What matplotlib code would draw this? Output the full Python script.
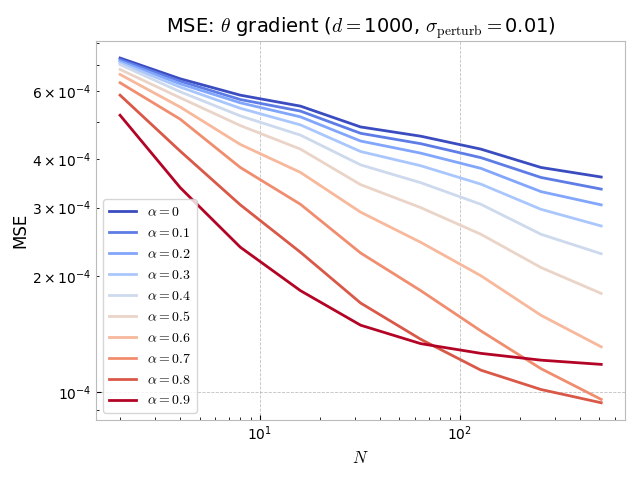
import numpy as np
import matplotlib
matplotlib.use('Agg')
import matplotlib.pyplot as plt

plt.rcParams['mathtext.fontset'] = 'cm'

# sample sizes and alpha mixing values
N = [2, 4, 8, 16, 32, 64, 128, 256, 512]
alphas = [0, 0.1, 0.2, 0.3, 0.4, 0.5, 0.6, 0.7, 0.8, 0.9]

# MSE values (units of 1e-4)
mse_a0 = [7.31, 6.46, 5.86, 5.49, 4.85, 4.59, 4.25, 3.81, 3.60]
mse_a1 = [7.24, 6.37, 5.71, 5.33, 4.67, 4.39, 4.04, 3.59, 3.35]
mse_a2 = [7.17, 6.27, 5.60, 5.15, 4.46, 4.15, 3.79, 3.30, 3.05]
mse_a3 = [7.10, 6.15, 5.42, 4.91, 4.19, 3.85, 3.45, 2.97, 2.69]
mse_a4 = [7.03, 5.98, 5.18, 4.62, 3.87, 3.48, 3.06, 2.56, 2.28]
mse_a5 = [6.83, 5.77, 4.89, 4.25, 3.44, 3.00, 2.56, 2.10, 1.80]
mse_a6 = [6.63, 5.46, 4.37, 3.70, 2.92, 2.44, 2.00, 1.58, 1.31]
mse_a7 = [6.31, 5.08, 3.81, 3.06, 2.29, 1.83, 1.44, 1.15, 0.958]
mse_a8 = [5.86, 4.20, 3.05, 2.30, 1.70, 1.37, 1.14, 1.016, 0.939]
mse_a9 = [5.20, 3.38, 2.37, 1.83, 1.49, 1.335, 1.26, 1.21, 1.18]
mse = [mse_a0, mse_a1, mse_a2, mse_a3, mse_a4, mse_a5, mse_a6, mse_a7, mse_a8, mse_a9]

colors = plt.cm.coolwarm(np.linspace(0, 1, len(alphas)))

fig, ax = plt.subplots(figsize=(6.4, 4.8), dpi=100)
for a, vals, c in zip(alphas, mse, colors):
    ax.plot(N, np.array(vals) * 1e-4, color=c, lw=2, label=rf'$\alpha={a}$')

ax.set_xscale('log')
ax.set_yscale('log')
ax.set_xlabel('$N$', fontsize=12)
ax.set_ylabel('MSE', fontsize=12, labelpad=2)
ax.set_title(r'MSE: $\theta$ gradient ($d=$1000, $\sigma_{\mathrm{perturb}}=$0.01)', fontsize=14)
ax.grid(True, which='major', ls='--', lw=0.6, color='#b0b0b0', alpha=0.8)
ax.tick_params(which='both', direction='in')
for s in ax.spines.values():
    s.set_color('#bbbbbb')
leg = ax.legend(loc='lower left', framealpha=0.8, edgecolor='#cccccc')

fig.subplots_adjust(left=0.15, right=0.977, top=0.915, bottom=0.125)
plt.savefig('out.png')
